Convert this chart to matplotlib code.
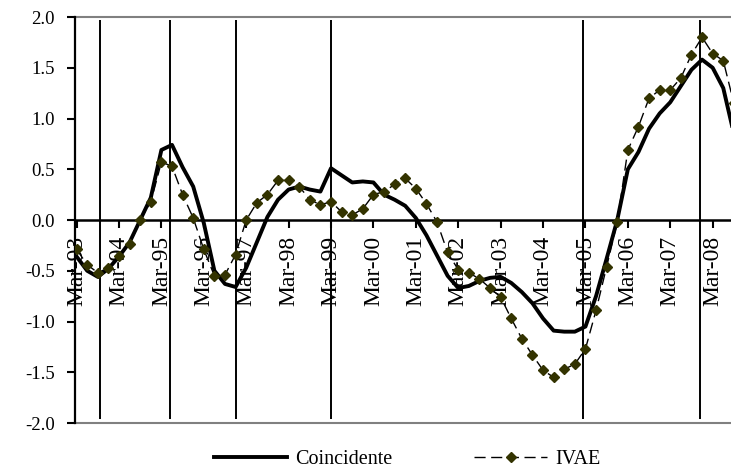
import numpy as np
import matplotlib.pyplot as plt

plt.rcParams['font.family'] = ['Liberation Serif', 'DejaVu Serif']
plt.rcParams['axes.unicode_minus'] = False

# trimestres desde Mar-93
tick_labels = ['Mar-93', 'Mar-94', 'Mar-95', 'Mar-96', 'Mar-97', 'Mar-98', 'Mar-99', 'Mar-00',
               'Mar-01', 'Mar-02', 'Mar-03', 'Mar-04', 'Mar-05', 'Mar-06', 'Mar-07', 'Mar-08']

coincidente = [-0.36, -0.50, -0.56, -0.48, -0.36, -0.22, 0.00, 0.22, 0.69, 0.74,
               0.52, 0.33, -0.03, -0.50, -0.63, -0.66, -0.47, -0.22, 0.03, 0.20,
               0.30, 0.33, 0.30, 0.28, 0.51, 0.44, 0.37, 0.38, 0.37, 0.25,
               0.20, 0.14, 0.02, -0.15, -0.35, -0.55, -0.67, -0.65, -0.60, -0.57,
               -0.56, -0.62, -0.71, -0.82, -0.97, -1.09, -1.10, -1.10, -1.05, -0.75,
               -0.38, 0.00, 0.50, 0.67, 0.90, 1.05, 1.16, 1.32, 1.48, 1.58,
               1.50, 1.30, 0.85]

ivae = [-0.29, -0.44, -0.52, -0.47, -0.35, -0.24, 0.00, 0.18, 0.57, 0.53,
        0.25, 0.02, -0.29, -0.55, -0.54, -0.34, 0.00, 0.17, 0.25, 0.39,
        0.39, 0.33, 0.20, 0.15, 0.18, 0.08, 0.05, 0.11, 0.25, 0.28,
        0.35, 0.41, 0.31, 0.16, -0.02, -0.32, -0.49, -0.52, -0.58, -0.67,
        -0.76, -0.97, -1.17, -1.33, -1.48, -1.55, -1.47, -1.42, -1.27, -0.89,
        -0.46, -0.02, 0.69, 0.92, 1.20, 1.28, 1.28, 1.40, 1.63, 1.80,
        1.64, 1.57, 1.15]

# puntos de giro (en trimestres desde Mar-93)
turning_points = [2.2, 8.8, 15.0, 24.0, 47.75, 58.85]

x = np.arange(len(coincidente))

fig = plt.figure(figsize=(7.31, 4.71), dpi=100)
ax = fig.add_axes([0.1026, 0.1019, 0.8974, 0.862])

ax.vlines(turning_points, -1.96, 1.97, color='black', lw=1.4, zorder=1)
ax.plot(x, coincidente, color='black', lw=2.8, label='Coincidente', zorder=3)
ax.plot(x, ivae, color='black', lw=1.0, dashes=(8, 4), marker='D', markersize=5,
        markerfacecolor='#333300', markeredgecolor='#333300', label='IVAE', zorder=4)

ax.set_xlim(-0.15, 61.73)
ax.set_ylim(-2, 2)
ax.set_axisbelow(True)

ax.axhline(2, color='#808080', lw=1.5, clip_on=False)
ax.axhline(-2, color='#808080', lw=1.5, clip_on=False)

for s in ['top', 'right']:
    ax.spines[s].set_visible(False)
ax.spines['left'].set_linewidth(1.6)
ax.spines['bottom'].set_position(('data', 0))
ax.spines['bottom'].set_linewidth(1.8)

ax.set_yticks(np.arange(-2, 2.01, 0.5))
ax.set_yticklabels(['%.1f' % v for v in np.arange(-2, 2.01, 0.5)], fontsize=13.5)
ax.set_xticks(np.arange(0, 61, 4))
ax.set_xticklabels(tick_labels, rotation=90, fontsize=17, va='top', ha='center')
ax.tick_params(axis='y', direction='out', length=5.5, width=1.5, pad=9)
ax.tick_params(axis='x', direction='out', length=5.5, width=1.5, pad=6)

fig.legend(loc='center', bbox_to_anchor=(0.557, 0.024), ncol=2, frameon=False,
           fontsize=14.5, handlelength=3.6, handletextpad=0.4, columnspacing=4.1)

plt.savefig('out.png', dpi=100)
